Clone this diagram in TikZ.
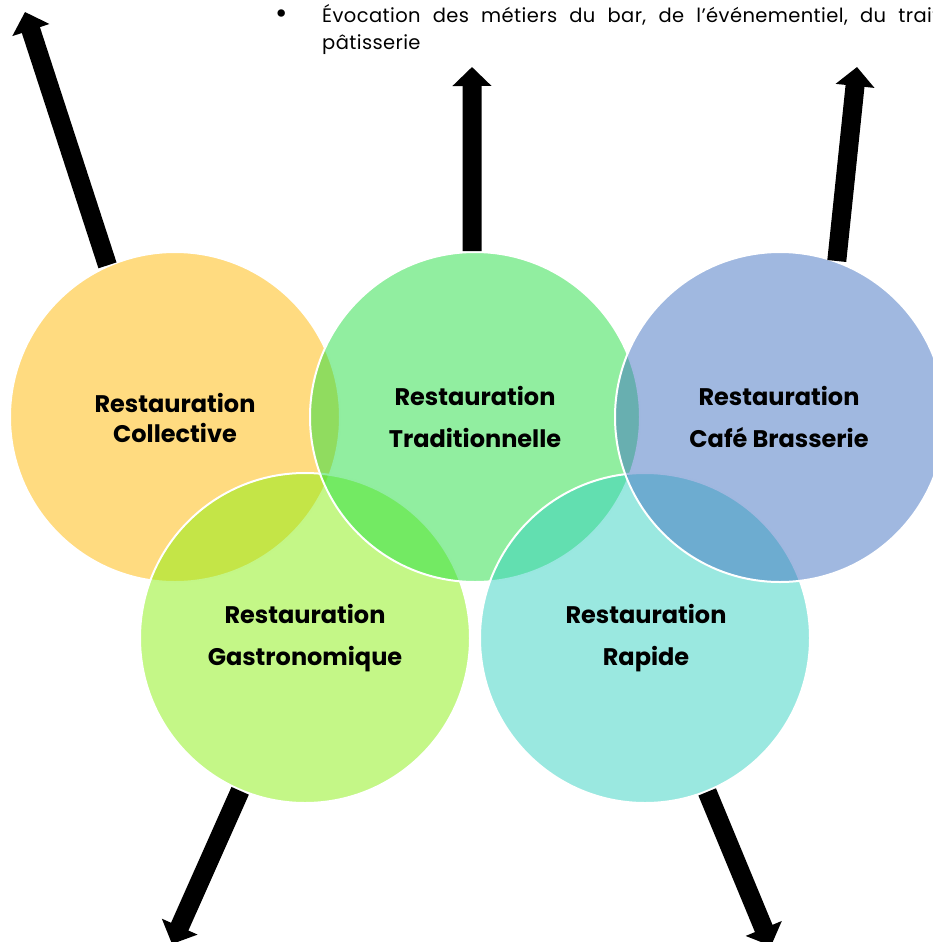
\documentclass[tikz,border=0pt]{standalone}
\usepackage{fontspec}
\setmainfont{Poppins}
\newfontfamily\notefont[LetterSpace=2,WordSpace=2.18]{Poppins}
\usetikzlibrary{arrows.meta}
\definecolor{cyel}{RGB}{255,183,1}
\definecolor{clime}{RGB}{137,239,15}
\definecolor{cgrn}{RGB}{35,221,65}
\definecolor{ccyan}{RGB}{53,209,193}
\definecolor{cblue}{RGB}{65,113,193}
\begin{document}
\begin{tikzpicture}[x=1pt,y=-1pt,
  circ/.style={circle, minimum size=330pt, inner sep=0pt, draw=white, line width=2pt, fill opacity=0.5, draw opacity=1},
  lbl/.style={font=\fontsize{24}{30}\selectfont\bfseries, align=center, text=black, inner sep=0pt},
  bigarrow/.style={draw=black, line width=19pt, -{Triangle[width=38pt,length=19pt]}},
  note/.style={font=\notefont\fontsize{19.5}{27}\selectfont, align=left, anchor=base west, inner sep=0pt}]
\useasboundingbox (0,0) rectangle (933,942);
\clip (0,0) rectangle (933,942);
% circles
\node[circ, fill=cyel]  (coll)   at (175,417) {};
\node[circ, fill=clime] (gastro) at (305,638) {};
\node[circ, fill=cgrn]  (trad)   at (475,417) {};
\node[circ, fill=ccyan] (rapide) at (645,638) {};
\node[circ, fill=cblue] (cafe)   at (780,417) {};
% labels
\node[lbl] (lcoll)   at (175,418) {Restauration\\Collective};
\node[lbl] (ltrad)   at (475,417) {Restauration\\[12pt]Traditionnelle};
\node[lbl] (lcafe)   at (779,417) {Restauration\\[12pt]Café Brasserie};
\node[lbl] (lgastro) at (305,638) {Restauration\\[12pt]Gastronomique};
\node[lbl] (lrapide) at (646,638) {Restauration\\[12pt]Rapide};
% arrow ends
\coordinate (e1) at (25,12);
\coordinate (e2) at (472,67);
\coordinate (e3) at (857,67);
\coordinate (e4) at (172,944);
\coordinate (e5) at (771,946);
\draw[bigarrow] (coll.114) -- (e1);
\draw[bigarrow] (trad.91) -- (e2);
\draw[bigarrow] (cafe.70) -- (e3);
\draw[bigarrow] (gastro.247) -- (e4);
\draw[bigarrow] (rapide.292) -- (e5);
% top text
\node[font=\fontsize{30}{30}\selectfont, anchor=center, inner sep=0pt] (bul) at (282,17) {•};
\node[note] (txt) at (322,50) {Évocation des métiers du bar, de l’événementiel, du traiteur et de la\\pâtisserie};
\end{tikzpicture}
\end{document}
